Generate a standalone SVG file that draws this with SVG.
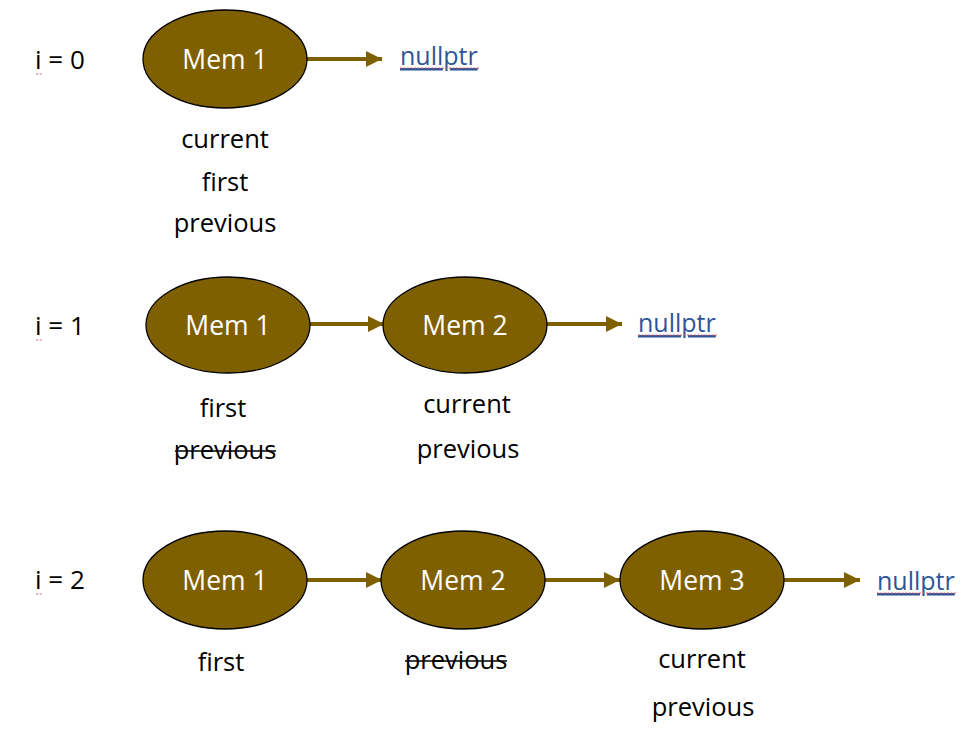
<svg xmlns="http://www.w3.org/2000/svg" width="967" height="733" viewBox="0 0 967 733">
<defs>
<style>
.t{font-family:"Open Sans","Liberation Sans",sans-serif;font-size:25.5px;fill:#000;text-anchor:middle;dominant-baseline:central}
.lab{font-family:"Open Sans","Liberation Sans",sans-serif;font-size:26px;fill:#000;dominant-baseline:central}
.mem{font-family:"Open Sans","Liberation Sans",sans-serif;font-size:26.5px;fill:#fff;text-anchor:middle;dominant-baseline:central}
.np{font-family:"Open Sans","Liberation Sans",sans-serif;font-size:25px;fill:#2F5597;text-decoration:underline;dominant-baseline:central}
.node{fill:#7F6000;stroke:#000;stroke-width:1.3}
.edge{stroke:#7F6000;stroke-width:4;fill:none;marker-end:url(#ah)}
.sq{stroke:#E06666;stroke-width:1.2;stroke-dasharray:2 1.5;fill:none}
.strike{stroke:#000;stroke-width:1.5}
</style>
<marker id="ah" viewBox="0 0 10 10" refX="10" refY="5" markerUnits="userSpaceOnUse" markerWidth="17" markerHeight="16" orient="auto">
<path d="M0,0 L10,5 L0,10 Z" fill="#7F6000"/>
</marker>
</defs>
<rect width="967" height="733" fill="#fff"/>

<g id="labels">
<text class="lab" x="35" y="59">i = 0</text>
<text class="lab" x="35" y="325">i = 1</text>
<text class="lab" x="35" y="579">i = 2</text>
<path class="sq" d="M36,74 L43,74"/>
<path class="sq" d="M36,340 L43,340"/>
<path class="sq" d="M36,594 L43,594"/>
</g>

<g id="connectors">
<line class="edge" x1="306" y1="59" x2="382" y2="59"/>
<line class="edge" x1="310" y1="324" x2="384" y2="324"/>
<line class="edge" x1="547" y1="324" x2="622" y2="324"/>
<line class="edge" x1="307" y1="580" x2="382" y2="580"/>
<line class="edge" x1="545" y1="580" x2="620" y2="580"/>
<line class="edge" x1="784" y1="580" x2="860" y2="580"/>
</g>

<g id="r0-mem1">
<ellipse class="node" cx="225" cy="59" rx="82" ry="49"/>
<text class="mem" x="225" y="59">Mem 1</text>
</g>
<g id="r0-nullptr">
<text class="np" x="400" y="55">nullptr</text>
<path class="sq" d="M400,68 L479,68"/>
</g>
<g id="r0-notes">
<text class="t" x="225" y="138">current</text>
<text class="t" x="225" y="181">first</text>
<text class="t" x="225" y="222">previous</text>
</g>

<g id="r1-mem1">
<ellipse class="node" cx="228" cy="325" rx="82" ry="48"/>
<text class="mem" x="228" y="325">Mem 1</text>
</g>
<g id="r1-mem2">
<ellipse class="node" cx="465" cy="325" rx="82" ry="48"/>
<text class="mem" x="465" y="325">Mem 2</text>
</g>
<g id="r1-nullptr">
<text class="np" x="638" y="322">nullptr</text>
<path class="sq" d="M638,335 L717,335"/>
</g>
<g id="r1-notes">
<text class="t" x="223" y="407">first</text>
<text class="t" x="225" y="449">previous</text>
<line class="strike" x1="175" y1="451" x2="276" y2="451"/>
<text class="t" x="467" y="403">current</text>
<text class="t" x="468" y="448">previous</text>
</g>

<g id="r2-mem1">
<ellipse class="node" cx="225" cy="580" rx="82" ry="49"/>
<text class="mem" x="225" y="580">Mem 1</text>
</g>
<g id="r2-mem2">
<ellipse class="node" cx="463" cy="580" rx="82" ry="49"/>
<text class="mem" x="463" y="580">Mem 2</text>
</g>
<g id="r2-mem3">
<ellipse class="node" cx="702" cy="580" rx="82" ry="49"/>
<text class="mem" x="702" y="580">Mem 3</text>
</g>
<g id="r2-nullptr">
<text class="np" x="877" y="580">nullptr</text>
<path class="sq" d="M877,593 L956,593"/>
</g>
<g id="r2-notes">
<text class="t" x="221" y="661">first</text>
<text class="t" x="456" y="659">previous</text>
<line class="strike" x1="405" y1="661" x2="507" y2="661"/>
<text class="t" x="702" y="658">current</text>
<text class="t" x="703" y="706">previous</text>
</g>
</svg>
